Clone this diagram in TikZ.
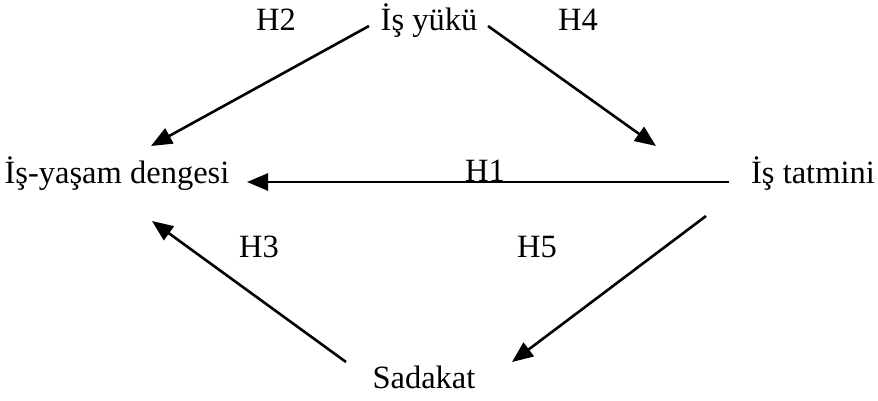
\documentclass[tikz,border=0pt]{standalone}
\usepackage{fontspec}
\setmainfont{Liberation Serif}
\usetikzlibrary{arrows.meta}
\tikzset{
  lbl/.style={anchor=base, inner sep=0pt, font=\fontsize{32.5}{39}\selectfont},
  link/.style={line width=2.6pt, -{Triangle[length=21pt,width=17pt]}},
}
\begin{document}
\begin{tikzpicture}[x=1pt,y=-1pt]
\useasboundingbox (0,0) rectangle (878,401);
% constructs
\node[lbl] (yuk)   at (429,31)  {İş yükü};
\node[lbl] (denge) at (117,183) {İş-yaşam dengesi};
\node[lbl] (tatm)  at (813,183) {İş tatmini};
\node[lbl] (sad)   at (424,388) {Sadakat};
% hypothesis labels
\node[lbl] (h2) at (276,31)  {H2};
\node[lbl] (h4) at (578,31)  {H4};
\node[lbl] (h1) at (485,182) {H1};
\node[lbl] (h3) at (259,257) {H3};
\node[lbl] (h5) at (537,257) {H5};
% arrow end points
\coordinate (a2s) at (369,26);
\coordinate (a2e) at (151,146);
\coordinate (a4s) at (488,26);
\coordinate (a4e) at (656,146);
\coordinate (a1s) at (729,182);
\coordinate (a1e) at (247,182);
\coordinate (a3s) at (346,362);
\coordinate (a3e) at (152,221);
\coordinate (a5s) at (706,216);
\coordinate (a5e) at (512,362);
% paths
\draw[link] (a2s) -- (a2e);
\draw[link] (a4s) -- (a4e);
\draw[link] (a1s) -- (a1e);
\draw[link] (a3s) -- (a3e);
\draw[link] (a5s) -- (a5e);
\end{tikzpicture}
\end{document}
